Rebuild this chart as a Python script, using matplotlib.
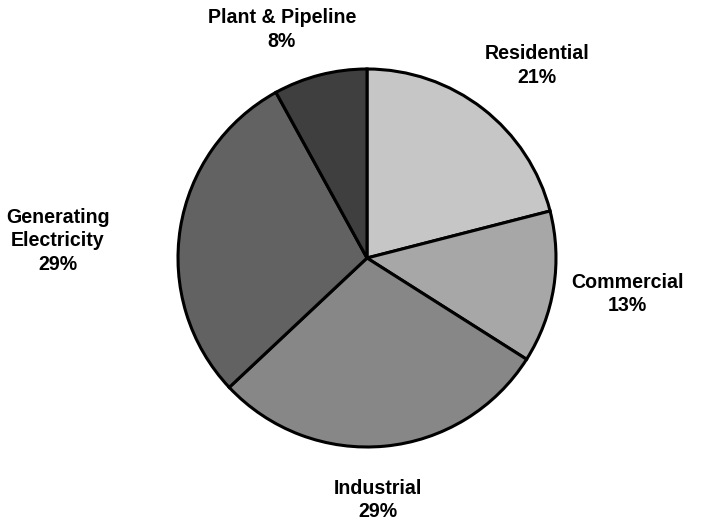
import matplotlib.pyplot as plt
import numpy as np

# Données du graphique
categories = ['Residential', 'Commercial', 'Industrial', 'Generating\nElectricity', 'Plant & Pipeline']
shares = [21, 13, 29, 29, 8]
colors = ['#c6c6c6', '#a7a7a7', '#878787', '#626262', '#3f3f3f']
# position des étiquettes (en rayons, depuis le centre)
label_pos = [(0.90, 1.02), (1.38, -0.19), (0.06, -1.28), (-1.635, 0.09), (-0.45, 1.21)]

plt.rcParams['font.family'] = ['Liberation Sans', 'DejaVu Sans']

fig = plt.figure(figsize=(7.01, 5.22), dpi=100)
# axe carré centré sur le camembert
ax = fig.add_axes([178 / 701, 75 / 522, 378 / 701, 378 / 522])

wedges, _ = ax.pie(shares, colors=colors, startangle=90, counterclock=False,
                   radius=1, wedgeprops=dict(edgecolor='black', linewidth=2.2))

# Étiquettes autour du camembert
for cat, val, (lx, ly) in zip(categories, shares, label_pos):
    ax.text(lx, ly, f"{cat}\n{val}%", ha='center', va='center',
            fontsize=14.1, fontweight='bold', linespacing=1.32)

ax.set_xlim(-1, 1)
ax.set_ylim(-1, 1)
ax.set_aspect('equal')
ax.axis('off')

fig.savefig('out.png', dpi=100)
